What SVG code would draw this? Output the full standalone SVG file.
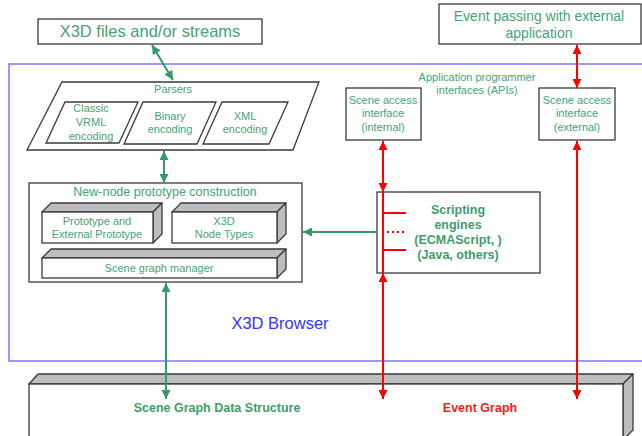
<svg xmlns="http://www.w3.org/2000/svg" width="642" height="436" viewBox="0 0 642 436">
<style>
text{font-family:"Liberation Sans",Arial,sans-serif;text-anchor:middle;}
.g{fill:#44a472;}
.gb{fill:#3e9e6a;font-weight:bold;}
.rb{fill:#ff1a1a;font-weight:bold;}
.box{fill:#fff;stroke:#3a3a3a;stroke-width:1.3;}
.face{fill:#bdbdbd;stroke:#3a3a3a;stroke-width:1.3;stroke-linejoin:round;}
.gl{stroke:#339966;stroke-width:2;fill:none;}
.rl{stroke:#ff0000;stroke-width:2;fill:none;}
</style>
<defs>
<marker id="ag" viewBox="0 0 10 10" refX="10" refY="5" markerWidth="10" markerHeight="9" markerUnits="userSpaceOnUse" orient="auto-start-reverse"><path d="M0,0 L10,5 L0,10 z" fill="#339966"/></marker>
<marker id="ar" viewBox="0 0 10 10" refX="10" refY="5" markerWidth="10" markerHeight="9" markerUnits="userSpaceOnUse" orient="auto-start-reverse"><path d="M0,0 L10,5 L0,10 z" fill="#ff0000"/></marker>
</defs>

<g id="browser">
<rect x="9" y="64" width="660" height="297" fill="none" stroke="#7f7fff" stroke-width="1.6"/>
<text x="280" y="329" font-size="16.5" fill="#3333ff">X3D Browser</text>
</g>

<g id="files">
<rect class="box" x="38" y="19" width="224" height="25"/>
<text class="g" x="150" y="37" font-size="16.5">X3D files and/or streams</text>
</g>

<g id="event-passing">
<rect class="box" x="439" y="4" width="202" height="40"/>
<text class="g" x="539" y="21" font-size="14">Event passing with external</text>
<text class="g" x="539" y="38" font-size="14">application</text>
</g>

<g id="parsers">
<polygon class="box" points="62,82 319,82 293,150 27,150"/>
<text class="g" x="173" y="93" font-size="11">Parsers</text>
</g>
<g id="classic-vrml">
<polygon class="box" points="65,102 138,102 119,143 46,143"/>
<text class="g" x="91" y="112" font-size="11">Classic</text>
<text class="g" x="91" y="126" font-size="11">VRML</text>
<text class="g" x="91" y="140" font-size="11">encoding</text>
</g>
<g id="binary">
<polygon class="box" points="143,102 216,102 197,144 124,144"/>
<text class="g" x="170" y="120" font-size="11">Binary</text>
<text class="g" x="170" y="133" font-size="11">encoding</text>
</g>
<g id="xml">
<polygon class="box" points="222,102 288,102 269,144 203,144"/>
<text class="g" x="245" y="120" font-size="11">XML</text>
<text class="g" x="245" y="133" font-size="11">encoding</text>
</g>

<g id="new-node">
<rect class="box" x="29" y="183" width="273" height="99"/>
<text class="g" x="165" y="196" font-size="12.5">New-node prototype construction</text>
</g>
<g id="prototype">
<polygon class="face" points="42,212 51,203 162,203 153,212"/>
<polygon class="face" points="153,212 162,203 162,234 153,243"/>
<rect class="box" x="42" y="212" width="111" height="31"/>
<text class="g" x="97" y="225" font-size="11">Prototype and</text>
<text class="g" x="97" y="238" font-size="11">External Prototype</text>
</g>
<g id="node-types">
<polygon class="face" points="172,212 181,203 286,203 277,212"/>
<polygon class="face" points="277,212 286,203 286,234 277,243"/>
<rect class="box" x="172" y="212" width="105" height="31"/>
<text class="g" x="224" y="225" font-size="11">X3D</text>
<text class="g" x="224" y="238" font-size="11">Node Types</text>
</g>
<g id="scene-graph-manager">
<polygon class="face" points="42,258 51,249 286,249 277,258"/>
<polygon class="face" points="277,258 286,249 286,269 277,278"/>
<rect class="box" x="42" y="258" width="235" height="20"/>
<text class="g" x="159" y="272" font-size="11">Scene graph manager</text>
</g>

<g id="apis">
<text class="g" x="477" y="81" font-size="11">Application programmer</text>
<text class="g" x="477" y="94" font-size="11">interfaces (APIs)</text>
</g>
<g id="sai-internal">
<rect class="box" x="346" y="88" width="75" height="52"/>
<text class="g" x="383" y="104" font-size="11">Scene access</text>
<text class="g" x="383" y="117" font-size="11">interface</text>
<text class="g" x="383" y="131" font-size="11">(internal)</text>
</g>
<g id="sai-external">
<rect class="box" x="539" y="88" width="76" height="52"/>
<text class="g" x="577" y="104" font-size="11">Scene access</text>
<text class="g" x="577" y="117" font-size="11">interface</text>
<text class="g" x="577" y="131" font-size="11">(external)</text>
</g>

<g id="scripting">
<rect class="box" x="377" y="192" width="163" height="81"/>
<text class="gb" x="458" y="214" font-size="12.5">Scripting</text>
<text class="gb" x="458" y="229" font-size="12.5">engines</text>
<text class="gb" x="458" y="244" font-size="12.5">(ECMAScript, )</text>
<text class="gb" x="458" y="259" font-size="12.5">(Java, others)</text>
</g>

<g id="data-structure">
<polygon class="face" points="29,384 38,374 633,374 623,384"/>
<polygon class="face" points="623,384 633,374 633,430 623,440"/>
<rect class="box" x="29" y="384" width="594" height="60"/>
<text class="gb" x="217" y="412" font-size="12.5">Scene Graph Data Structure</text>
<text class="rb" x="480" y="412" font-size="12.5">Event Graph</text>
</g>

<g id="connectors">
<line class="gl" x1="152" y1="45" x2="173" y2="80" marker-start="url(#ag)" marker-end="url(#ag)"/>
<line class="gl" x1="164" y1="151" x2="164" y2="183" marker-start="url(#ag)" marker-end="url(#ag)"/>
<line class="gl" x1="166" y1="283" x2="166" y2="399" marker-start="url(#ag)" marker-end="url(#ag)"/>
<line class="gl" x1="377" y1="232" x2="303" y2="232" stroke-width="1.5" marker-end="url(#ag)"/>
<line class="rl" x1="577" y1="45" x2="577" y2="88" marker-start="url(#ar)" marker-end="url(#ar)"/>
<line class="rl" x1="577" y1="141" x2="577" y2="399" marker-start="url(#ar)" marker-end="url(#ar)"/>
<line class="rl" x1="383" y1="141" x2="383" y2="192" marker-start="url(#ar)" marker-end="url(#ar)"/>
<line class="rl" x1="383" y1="192" x2="383" y2="273"/>
<line class="rl" x1="383" y1="273" x2="383" y2="399" marker-start="url(#ar)" marker-end="url(#ar)"/>
<line class="rl" x1="383" y1="213" x2="406" y2="213" stroke-width="1.5"/>
<line class="rl" x1="387" y1="232" x2="406" y2="232" stroke-width="1.5" stroke-dasharray="2,3"/>
<line class="rl" x1="383" y1="250" x2="406" y2="250" stroke-width="1.5"/>
</g>
</svg>
